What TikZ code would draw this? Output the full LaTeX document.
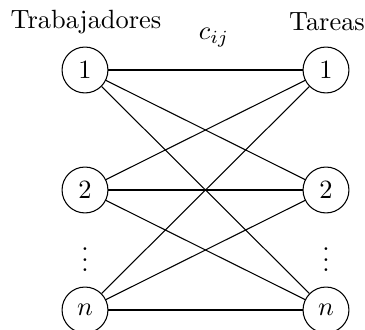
\documentclass[tikz,border=0pt]{standalone}
\begin{document}
\begin{tikzpicture}[x=0.379pt,y=-0.379pt,
  vert/.style={circle,draw,minimum size=17.4pt,inner sep=0pt},
  edge/.style={draw,line width=0.4pt}]
\useasboundingbox (0,0) rectangle (365,330);
\node[vert] (l1) at (85,70) {$1$};
\node[vert] (l2) at (85,190) {$2$};
\node[vert] (ln) at (85,310) {$n$};
\node[vert] (r1) at (326,70) {$1$};
\node[vert] (r2) at (326,190) {$2$};
\node[vert] (rn) at (326,310) {$n$};
\node (ld) at (85,252) {$\vdots$};
\node (rd) at (326,252) {$\vdots$};
\node (tl) at (86,22) {Trabajadores};
\node (tr) at (327,22) {Tareas};
\node (c) at (214,38) {$c_{ij}$};
\foreach \a in {l1,l2,ln}
  \foreach \b in {r1,r2,rn}
    \draw[edge] (\a) -- (\b);
\end{tikzpicture}
\end{document}
